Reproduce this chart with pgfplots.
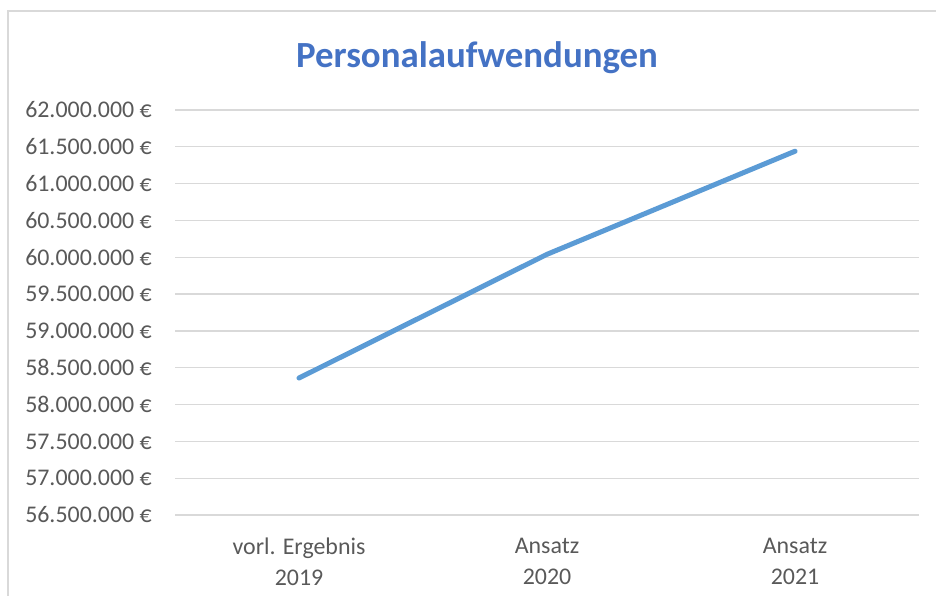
\documentclass[border=0pt]{standalone}
\usepackage{pgfplots}
\pgfplotsset{compat=1.18}
\usepackage{fontspec}
\setmainfont{Carlito}
\definecolor{linec}{HTML}{5B9BD5}
\definecolor{gridc}{HTML}{D9D9D9}
\definecolor{labc}{HTML}{595959}
\definecolor{titc}{HTML}{4472C4}
\begin{document}
\begin{tikzpicture}[x=1bp,y=1bp]
\useasboundingbox (0,0) rectangle (936,596);
\begin{scope}
\clip (0,0) rectangle (936,596);
\draw[gridc, line width=1.3bp] (8,-20) -- (8,585) -- (960,585);
\end{scope}
\node[anchor=base, text=titc, font=\fontsize{37}{44}\selectfont\bfseries, inner sep=0pt] at (477,528) {Personalaufwendungen};
\begin{axis}[
  at={(175bp,81bp)}, anchor=south west,
  width=744bp, height=405bp, scale only axis,
  xmin=-0.5, xmax=2.5,
  ymin=56500000, ymax=62000000,
  axis line style={draw=none},
  major tick length=0pt,
  xtick={0,1,2},
  xticklabels={{vorl. Ergebnis\\2019},{Ansatz\\2020},{Ansatz\\2021}},
  ytick={56500000,57000000,57500000,58000000,58500000,59000000,59500000,60000000,60500000,61000000,61500000,62000000},
  yticklabels={56.500.000 €,57.000.000 €,57.500.000 €,58.000.000 €,58.500.000 €,59.000.000 €,59.500.000 €,60.000.000 €,60.500.000 €,61.000.000 €,61.500.000 €,62.000.000 €},
  scaled y ticks=false,
  ymajorgrids,
  grid style={gridc, line width=1.3bp},
  tick label style={text=labc, font=\fontsize{24}{31.5}\selectfont},
  yticklabel style={anchor=east, inner sep=0pt, xshift=-23bp},
  xticklabel style={align=center, anchor=north, inner sep=0pt, yshift=-22.7bp},
  clip=false,
]
\addplot[linec, line width=5bp, line cap=round, line join=round] coordinates {
  (0,58360000) (1,60040000) (2,61440000)
};
\end{axis}
\end{tikzpicture}
\end{document}
